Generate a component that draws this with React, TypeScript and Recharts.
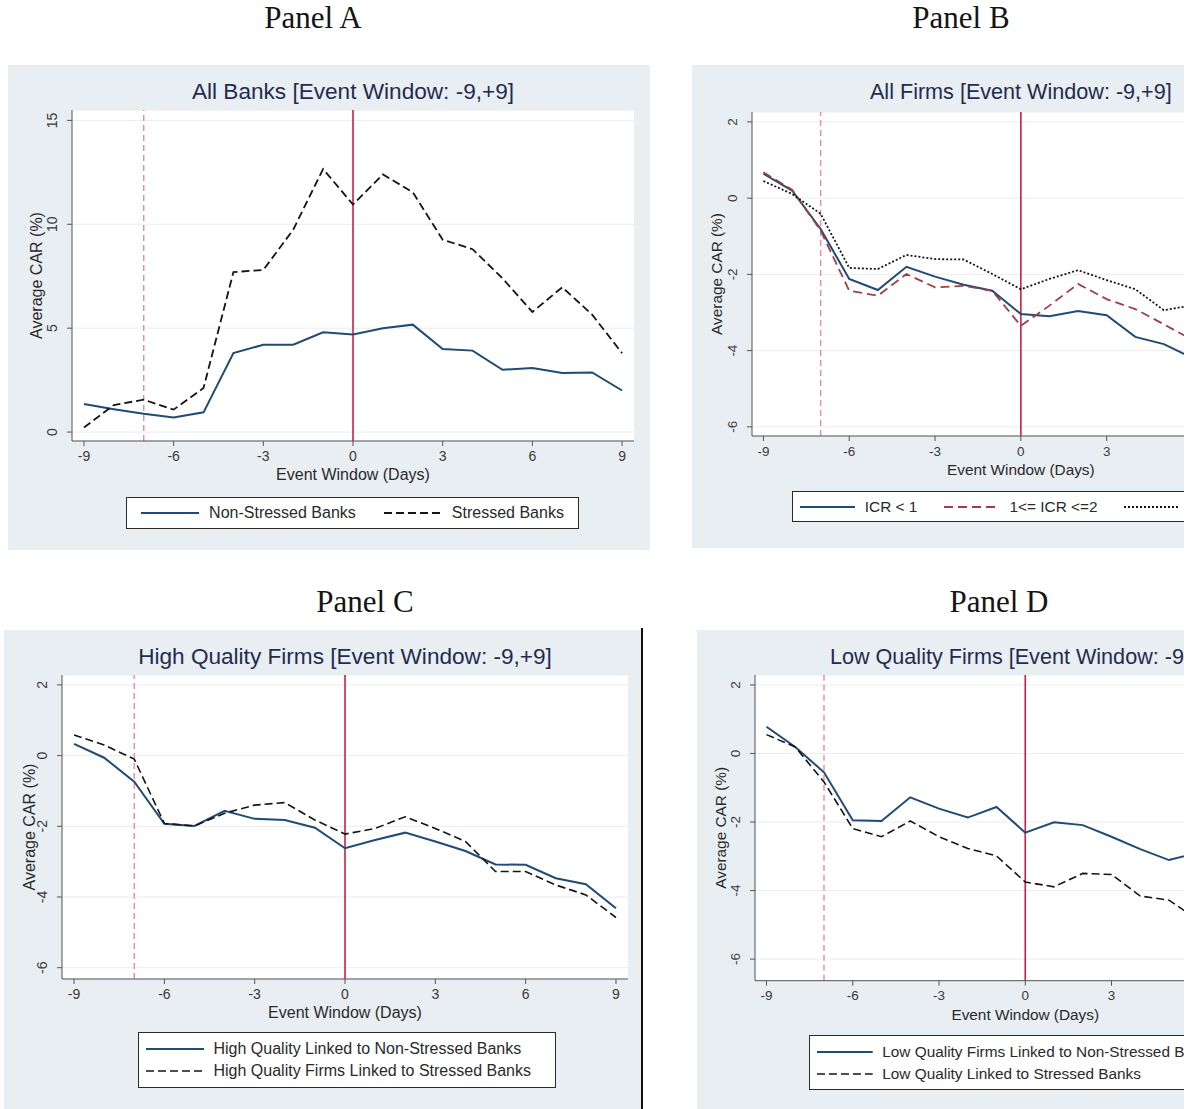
import React from "react";
import {
  LineChart,
  Line,
  XAxis,
  YAxis,
  CartesianGrid,
  ReferenceLine,
} from "recharts";

// event window days
const days = [-9, -8, -7, -6, -5, -4, -3, -2, -1, 0, 1, 2, 3, 4, 5, 6, 7, 8, 9];
const xTicks = [-9, -6, -3, 0, 3, 6, 9];
// panels B and D are cut off at the right edge of the source, only these ticks show
const xTicksCut = [-9, -6, -3, 0, 3];

// Panel A: all banks
const nonStressedBanks = [1.35, 1.1, 0.88, 0.7, 0.95, 3.8, 4.2, 4.2, 4.8, 4.7, 5.0, 5.17, 4.0, 3.92, 3.0, 3.08, 2.84, 2.87, 2.0];
const stressedBanks = [0.22, 1.3, 1.56, 1.08, 2.12, 7.7, 7.8, 9.74, 12.66, 10.95, 12.4, 11.54, 9.26, 8.8, 7.4, 5.78, 6.97, 5.65, 3.8];

// Panel B: all firms by ICR (days past +6 are not visible in the source)
const icrBelow1 = [0.64, 0.2, -0.81, -2.12, -2.41, -1.8, -2.06, -2.27, -2.43, -3.04, -3.1, -2.96, -3.07, -3.64, -3.83, -4.19, null, null, null];
const icr1to2 = [0.68, 0.22, -0.85, -2.43, -2.56, -1.99, -2.34, -2.3, -2.43, -3.35, -2.82, -2.25, -2.65, -2.91, -3.31, -3.72, null, null, null];
const icrAbove2 = [0.45, 0.11, -0.41, -1.83, -1.86, -1.49, -1.6, -1.61, -1.99, -2.39, -2.12, -1.89, -2.15, -2.39, -2.94, -2.81, null, null, null];

// Panel C: high quality firms
const highNonStressed = [0.33, -0.06, -0.74, -1.93, -1.99, -1.56, -1.79, -1.82, -2.04, -2.62, -2.39, -2.18, -2.43, -2.7, -3.08, -3.09, -3.47, -3.64, -4.32];
const highStressed = [0.58, 0.3, -0.1, -1.92, -1.99, -1.63, -1.4, -1.33, -1.82, -2.22, -2.06, -1.73, -2.06, -2.43, -3.28, -3.28, -3.66, -3.94, -4.58];

// Panel D: low quality firms
const lowNonStressed = [0.78, 0.19, -0.55, -1.95, -1.97, -1.28, -1.61, -1.87, -1.56, -2.31, -2.01, -2.09, -2.43, -2.79, -3.11, -2.9, null, null, null];
const lowStressed = [0.55, 0.19, -0.83, -2.19, -2.43, -1.97, -2.43, -2.77, -2.99, -3.75, -3.89, -3.5, -3.53, -4.16, -4.28, -4.85, null, null, null];

const SANS = "'Liberation Sans', Arial, Helvetica, sans-serif";
const NAVY = "#1f4b74";
const BLACK = "#151515";
const MAROON = "#a23d48";
const PANEL_BG = "#e8eef2";
const TITLE_COLOR = "#1f2c50";
const TICK_COLOR = "#3a3a3a";

interface SeriesSpec {
  key: string;
  name: string;
  values: (number | null)[];
  stroke: string;
  dash?: string;
  width: number;
}

interface PanelSpec {
  box: { left: number; top: number; width: number; height: number };
  plot: { left: number; top: number; right: number; bottom: number };
  yDomain: [number, number];
  yTicks: number[];
  xTicks: number[];
  title: string;
  titleSize: number;
  fs: number; // font scale for this panel
  yLabelX: number;
  series: SeriesSpec[];
  legend: {
    left: number;
    top: number;
    width: number;
    height: number;
    rows: boolean;
    gap: number;
    justify: string;
  };
}

function buildRows(series: SeriesSpec[]) {
  return days.map((day, i) => {
    const row: Record<string, number | null> = { day };
    series.forEach((s) => {
      row[s.key] = s.values[i];
    });
    return row;
  });
}

const RotatedTick = (props: any) => {
  const { x, y, payload, fontSize } = props;
  return (
    <text
      x={x}
      y={y}
      transform={`rotate(-90 ${x} ${y})`}
      textAnchor="middle"
      fontSize={fontSize}
      fontFamily={SANS}
      fill={TICK_COLOR}
    >
      {payload.value}
    </text>
  );
};

function LegendSample({ s, w }: { s: SeriesSpec; w: number }) {
  return (
    <svg width={w} height={6} style={{ flex: "none" }}>
      <line
        x1={0}
        y1={3}
        x2={w}
        y2={3}
        stroke={s.stroke}
        strokeWidth={s.width}
        strokeDasharray={s.dash}
      />
    </svg>
  );
}

function Panel({ spec }: { spec: PanelSpec }) {
  const { box, plot, series, legend, fs } = spec;
  const XH = 60;
  const rows = buildRows(series);
  const plotCenter = (plot.left + plot.right) / 2;
  const tickSize = 14 * fs;
  const labelSize = 16 * fs;

  return (
    <div
      style={{
        position: "absolute",
        left: box.left,
        top: box.top,
        width: box.width,
        height: box.height,
        background: PANEL_BG,
        fontFamily: SANS,
      }}
    >
      <div
        style={{
          position: "absolute",
          left: plotCenter,
          top: 27,
          transform: "translate(-50%, -50%)",
          fontSize: spec.titleSize,
          color: TITLE_COLOR,
          whiteSpace: "nowrap",
        }}
      >
        {spec.title}
      </div>

      <LineChart
        width={box.width}
        height={box.height}
        data={rows}
        margin={{
          top: plot.top,
          right: box.width - plot.right,
          left: 0,
          bottom: box.height - plot.bottom - XH,
        }}
      >
        <CartesianGrid vertical={false} stroke="#ececec" fill="#ffffff" />
        <XAxis
          dataKey="day"
          type="number"
          domain={[-9.4, 9.4]}
          ticks={spec.xTicks}
          allowDataOverflow
          height={XH}
          tickSize={5}
          tickMargin={5}
          stroke="#555"
          tick={{ fontSize: tickSize, fill: TICK_COLOR, fontFamily: SANS }}
          label={{
            value: "Event Window (Days)",
            position: "insideTop",
            offset: 28,
            style: { fontSize: labelSize, fill: "#2a2a2a", fontFamily: SANS },
          }}
        />
        <YAxis
          type="number"
          domain={spec.yDomain}
          ticks={spec.yTicks}
          allowDataOverflow
          width={plot.left}
          tickSize={5}
          tickMargin={10}
          stroke="#555"
          tick={<RotatedTick fontSize={tickSize} />}
          label={{
            value: "Average CAR (%)",
            angle: -90,
            position: "center",
            dx: spec.yLabelX - plot.left / 2,
            style: { fontSize: labelSize, fill: "#2a2a2a", fontFamily: SANS },
          }}
        />
        <ReferenceLine x={-7} stroke="#ec8aa0" strokeWidth={1.4} strokeDasharray="6 4" />
        <ReferenceLine x={0} stroke="#cf1d42" strokeWidth={1.6} />
        {series.map((s) => (
          <Line
            key={s.key}
            type="linear"
            dataKey={s.key}
            name={s.name}
            stroke={s.stroke}
            strokeWidth={s.width}
            strokeDasharray={s.dash}
            dot={false}
            activeDot={false}
            isAnimationActive={false}
          />
        ))}
      </LineChart>

      <div
        style={{
          position: "absolute",
          left: legend.left,
          top: legend.top,
          width: legend.width,
          height: legend.height,
          boxSizing: "border-box",
          background: "#fff",
          border: "1.5px solid #2a2a2a",
          display: "flex",
          flexDirection: legend.rows ? "column" : "row",
          justifyContent: legend.justify,
          alignItems: legend.rows ? "flex-start" : "center",
          gap: legend.gap,
          padding: "0 7px",
          fontSize: labelSize,
          color: "#2a2a2a",
          whiteSpace: "nowrap",
        }}
      >
        {series.map((s) => (
          <div key={s.key} style={{ display: "flex", alignItems: "center", gap: 10 * fs }}>
            <LegendSample s={s} w={58 * fs} />
            <span>{s.name}</span>
          </div>
        ))}
      </div>
    </div>
  );
}

const panels: PanelSpec[] = [
  {
    box: { left: 8, top: 65, width: 642, height: 485 },
    plot: { left: 64, top: 45, right: 626, bottom: 376 },
    yDomain: [-0.43, 15.5],
    yTicks: [0, 5, 10, 15],
    xTicks,
    title: "All Banks [Event Window: -9,+9]",
    titleSize: 22.6,
    fs: 1,
    yLabelX: 28,
    series: [
      { key: "nonStressed", name: "Non-Stressed Banks", values: nonStressedBanks, stroke: NAVY, width: 2 },
      { key: "stressed", name: "Stressed Banks", values: stressedBanks, stroke: BLACK, dash: "8 4", width: 1.8 },
    ],
    legend: { left: 118, top: 432, width: 453, height: 32, rows: false, gap: 28, justify: "center" },
  },
  {
    box: { left: 692, top: 65, width: 640, height: 483 },
    plot: { left: 60, top: 47, right: 597.7, bottom: 371 },
    yDomain: [-6.24, 2.26],
    yTicks: [-6, -4, -2, 0, 2],
    xTicks: xTicksCut,
    title: "All Firms [Event Window: -9,+9]",
    titleSize: 21.6,
    fs: 0.96,
    yLabelX: 25,
    series: [
      { key: "icr1", name: "ICR < 1", values: icrBelow1, stroke: NAVY, width: 2 },
      { key: "icr12", name: "1<= ICR <=2", values: icr1to2, stroke: MAROON, dash: "9 5", width: 1.8 },
      { key: "icr2", name: "ICR > 2", values: icrAbove2, stroke: BLACK, dash: "2 2", width: 1.8 },
    ],
    legend: { left: 99.5, top: 426, width: 480, height: 31, rows: false, gap: 27, justify: "flex-start" },
  },
  {
    box: { left: 4, top: 630, width: 638, height: 485 },
    plot: { left: 58, top: 45, right: 624, bottom: 349 },
    yDomain: [-6.32, 2.28],
    yTicks: [-6, -4, -2, 0, 2],
    xTicks,
    title: "High Quality Firms [Event Window: -9,+9]",
    titleSize: 22.6,
    fs: 1,
    yLabelX: 25,
    series: [
      { key: "hiNon", name: "High Quality Linked to Non-Stressed Banks", values: highNonStressed, stroke: NAVY, width: 2 },
      { key: "hiStr", name: "High Quality Firms Linked to Stressed Banks", values: highStressed, stroke: BLACK, dash: "8 4", width: 1.6 },
    ],
    legend: { left: 133.5, top: 402, width: 418, height: 56, rows: true, gap: 4, justify: "center" },
  },
  {
    box: { left: 697, top: 630, width: 640, height: 485 },
    plot: { left: 58, top: 45, right: 598.5, bottom: 350.7 },
    yDomain: [-6.63, 2.29],
    yTicks: [-6, -4, -2, 0, 2],
    xTicks: xTicksCut,
    title: "Low Quality Firms [Event Window: -9,+9]",
    titleSize: 21.6,
    fs: 0.96,
    yLabelX: 24,
    series: [
      { key: "loNon", name: "Low Quality Firms Linked to Non-Stressed Banks", values: lowNonStressed, stroke: NAVY, width: 2 },
      { key: "loStr", name: "Low Quality Linked to Stressed Banks", values: lowStressed, stroke: BLACK, dash: "8 4", width: 1.6 },
    ],
    legend: { left: 112, top: 405, width: 440, height: 55, rows: true, gap: 4, justify: "center" },
  },
];

const panelLabels = [
  { text: "Panel A", x: 313, top: 2 },
  { text: "Panel B", x: 961, top: 2 },
  { text: "Panel C", x: 365, top: 586 },
  { text: "Panel D", x: 999, top: 586 },
];

export default function App() {
  return (
    <div
      style={{
        position: "fixed",
        left: 0,
        top: 0,
        width: 1192,
        height: 1109,
        background: "#fff",
        overflow: "hidden",
      }}
    >
      <div
        style={{
          position: "absolute",
          left: 0,
          top: 0,
          width: 1184,
          height: 1109,
          overflow: "hidden",
        }}
      >
        {panelLabels.map((p) => (
          <div
            key={p.text}
            style={{
              position: "absolute",
              left: p.x,
              top: p.top,
              transform: "translateX(-50%)",
              fontFamily: "'Liberation Serif', 'Times New Roman', serif",
              fontSize: 31,
              lineHeight: "31px",
              color: "#151515",
              whiteSpace: "nowrap",
            }}
          >
            {p.text}
          </div>
        ))}
        {panels.map((spec) => (
          <Panel key={spec.title} spec={spec} />
        ))}
        <div
          style={{
            position: "absolute",
            left: 641,
            top: 628,
            width: 2,
            height: 481,
            background: "#111",
          }}
        />
      </div>
    </div>
  );
}
